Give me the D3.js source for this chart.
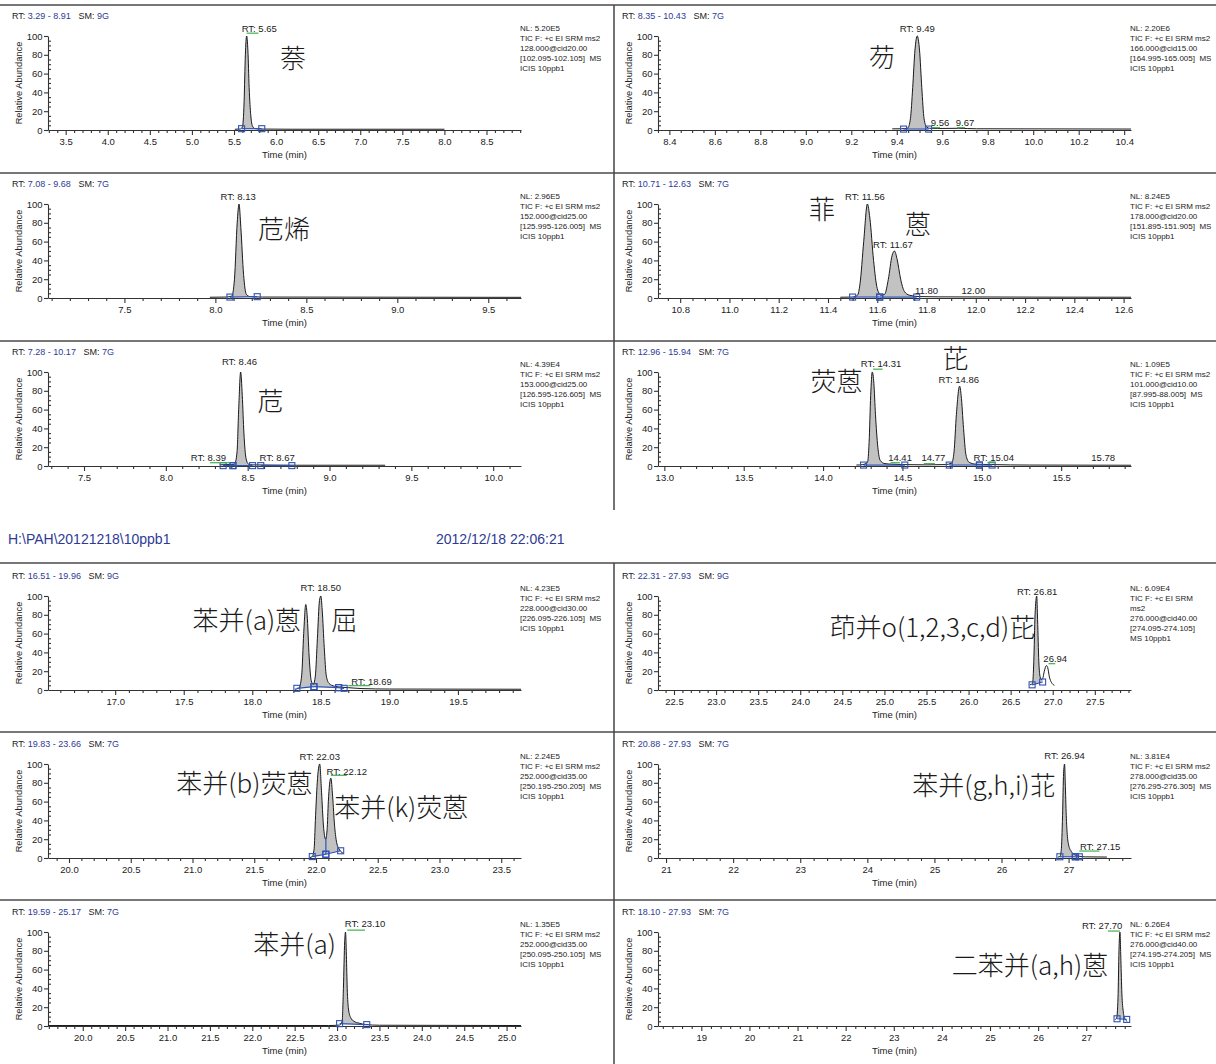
<!DOCTYPE html>
<html>
<head>
<meta charset="utf-8">
<script src="https://cdn.jsdelivr.net/npm/d3@7"></script>
<style>
  body { margin: 0; background: #fff; }
  svg { display: block; font-family: "Liberation Sans", Arial, sans-serif; }
</style>
</head>
<body>
<div id="chart"></div>
<script>
// ---- panel headers / info ----
const rtRanges = [[3.29, 8.91], [8.35, 10.43], [7.08, 9.68], [10.71, 12.63], [7.28, 10.17], [12.96, 15.94],
                  [16.51, 19.96], [22.31, 27.93], [19.83, 23.66], [20.88, 27.93], [19.59, 25.17], [18.10, 27.93]];
const smoothing = ["9G", "7G", "7G", "7G", "7G", "7G", "9G", "9G", "7G", "7G", "7G", "7G"];
const infoLines = [
  ["NL: 5.20E5", "TIC F: +c EI SRM ms2", "128.000@cid20.00", "[102.095-102.105]  MS", "ICIS 10ppb1"],
  ["NL: 2.20E6", "TIC F: +c EI SRM ms2", "166.000@cid15.00", "[164.995-165.005]  MS", "ICIS 10ppb1"],
  ["NL: 2.96E5", "TIC F: +c EI SRM ms2", "152.000@cid25.00", "[125.995-126.005]  MS", "ICIS 10ppb1"],
  ["NL: 8.24E5", "TIC F: +c EI SRM ms2", "178.000@cid20.00", "[151.895-151.905]  MS", "ICIS 10ppb1"],
  ["NL: 4.39E4", "TIC F: +c EI SRM ms2", "153.000@cid25.00", "[126.595-126.605]  MS", "ICIS 10ppb1"],
  ["NL: 1.09E5", "TIC F: +c EI SRM ms2", "101.000@cid10.00", "[87.995-88.005]  MS", "ICIS 10ppb1"],
  ["NL: 4.23E5", "TIC F: +c EI SRM ms2", "228.000@cid30.00", "[226.095-226.105]  MS", "ICIS 10ppb1"],
  ["NL: 6.09E4", "TIC F: +c EI SRM", "ms2", "276.000@cid40.00", "[274.095-274.105]", "MS 10ppb1"],
  ["NL: 2.24E5", "TIC F: +c EI SRM ms2", "252.000@cid35.00", "[250.195-250.205]  MS", "ICIS 10ppb1"],
  ["NL: 3.81E4", "TIC F: +c EI SRM ms2", "278.000@cid35.00", "[276.295-276.305]  MS", "ICIS 10ppb1"],
  ["NL: 1.35E5", "TIC F: +c EI SRM ms2", "252.000@cid35.00", "[250.095-250.105]  MS", "ICIS 10ppb1"],
  ["NL: 6.26E4", "TIC F: +c EI SRM ms2", "276.000@cid40.00", "[274.195-274.205]  MS", "ICIS 10ppb1"]
];
const filePath = "H:\\PAH\\20121218\\10ppb1";
const runDate = "2012/12/18 22:06:21";

// ---- x tick labels ----
const majorTicks = [
  [3.5, 4.0, 4.5, 5.0, 5.5, 6.0, 6.5, 7.0, 7.5, 8.0, 8.5],
  [8.4, 8.6, 8.8, 9.0, 9.2, 9.4, 9.6, 9.8, 10.0, 10.2, 10.4],
  [7.5, 8.0, 8.5, 9.0, 9.5],
  [10.8, 11.0, 11.2, 11.4, 11.6, 11.8, 12.0, 12.2, 12.4, 12.6],
  [7.5, 8.0, 8.5, 9.0, 9.5, 10.0],
  [13.0, 13.5, 14.0, 14.5, 15.0, 15.5],
  [17.0, 17.5, 18.0, 18.5, 19.0, 19.5],
  [22.5, 23.0, 23.5, 24.0, 24.5, 25.0, 25.5, 26.0, 26.5, 27.0, 27.5],
  [20.0, 20.5, 21.0, 21.5, 22.0, 22.5, 23.0, 23.5],
  [21, 22, 23, 24, 25, 26, 27],
  [20.0, 20.5, 21.0, 21.5, 22.0, 22.5, 23.0, 23.5, 24.0, 24.5, 25.0],
  [19, 20, 21, 22, 23, 24, 25, 26, 27]
];
const minorSteps = [0.1, 0.05, 0.1, 0.05, 0.1, 0.1, 0.1, 0.1, 0.1, 0.2, 0.1, 0.2];
const tickDigits = [1, 1, 1, 1, 1, 1, 1, 1, 1, 0, 1, 0];
const yTicks = [0, 20, 40, 60, 80, 100];

// ---- traces: [time (min), relative abundance %] ----
const trace1 = [[5.51,0.8],[5.57,1.0],[5.60,3],[5.62,30],[5.635,80],[5.65,100],[5.665,85],[5.68,45],[5.70,15],[5.72,4],[5.75,1.5],[5.82,1.0],[6.2,0.8],[8.0,0.8]];
const trace2 = [[9.38,1.2],[9.42,1.3],[9.448,2],[9.46,12],[9.47,45],[9.48,85],[9.49,100],[9.50,85],[9.51,45],[9.52,12],[9.532,3],[9.545,1.8],[9.58,1.6],[9.67,1.8],[9.75,1.3],[10.43,1.0]];
const trace3 = [[7.97,0.8],[8.06,1.0],[8.09,2],[8.105,20],[8.12,80],[8.13,100],[8.14,75],[8.155,25],[8.17,4],[8.19,1.5],[8.26,1.0],[9.68,0.7]];
const trace4 = [[11.45,0.8],[11.50,1.0],[11.52,3],[11.53,15],[11.545,60],[11.56,100],[11.57,85],[11.585,40],[11.60,10],[11.615,3],[11.63,4],[11.645,20],[11.66,45],[11.67,50],[11.68,42],[11.695,20],[11.71,7],[11.73,3],[11.77,1.5],[11.85,1.2],[12.63,0.8]];
const trace5 = [[8.33,1.2],[8.38,1.5],[8.42,2],[8.435,15],[8.445,60],[8.457,100],[8.467,75],[8.477,35],[8.49,8],[8.505,2],[8.53,1.2],[8.65,1.0],[8.80,0.8],[9.34,0.8]];
const trace6 = [[14.21,1.0],[14.25,1.5],[14.28,4],[14.29,25],[14.30,75],[14.31,100],[14.32,88],[14.33,55],[14.345,20],[14.36,6],[14.39,2.5],[14.43,2],[14.50,1.5],[14.65,1.2],[14.77,1.5],[14.81,3],[14.825,15],[14.84,55],[14.86,85],[14.87,75],[14.885,40],[14.90,12],[14.92,4],[14.96,2],[15.06,1.5],[15.30,1.0],[15.94,0.8]];
const trace7 = [[18.31,0.8],[18.34,2],[18.36,15],[18.375,60],[18.39,91],[18.40,80],[18.415,35],[18.43,10],[18.445,6],[18.46,15],[18.475,55],[18.49,95],[18.50,100],[18.51,85],[18.525,45],[18.54,15],[18.56,7],[18.60,4],[18.65,3],[18.70,2.5],[18.8,1.5],[19.0,1.0],[19.96,0.8]];
const trace8 = [[26.73,5.5],[26.76,7],[26.775,30],[26.79,80],[26.81,100],[26.82,75],[26.835,30],[26.85,14],[26.865,11],[26.88,12],[26.90,20],[26.925,26],[26.94,24],[26.96,14],[26.985,8],[27.02,5]];
const trace9 = [[21.95,0.5],[21.97,1.5],[21.985,10],[21.995,40],[22.01,80],[22.03,100],[22.045,70],[22.06,35],[22.078,20],[22.09,30],[22.10,60],[22.12,85],[22.135,65],[22.15,35],[22.165,18],[22.185,10],[22.20,7],[22.22,5]];
const trace10 = [[26.84,1.0],[26.87,1.5],[26.89,8],[26.91,45],[26.925,90],[26.94,100],[26.95,80],[26.965,45],[26.98,25],[27.00,14],[27.04,7],[27.09,3.5],[27.15,2],[27.25,1.2],[27.57,1.0]];
const trace11 = [[19.59,0.5],[22.90,0.5],[23.03,1.0],[23.06,5],[23.075,40],[23.09,90],[23.10,100],[23.11,75],[23.12,40],[23.135,18],[23.16,9],[23.20,5],[23.26,3],[23.34,1.5],[23.50,0.8],[25.17,0.5]];
const trace12 = [[27.60,7],[27.63,8],[27.66,30],[27.68,80],[27.70,100],[27.72,70],[27.74,35],[27.77,15],[27.80,8],[27.85,5]];

// ---- integration segments: start/end time and baseline abundance ----
const integ1 = [{s: 5.59, e: 5.83, bs: 1.4, be: 1.4}];
const integ2 = [{s: 9.43, e: 9.54, bs: 1.0, be: 1.0}];
const integ3 = [{s: 8.08, e: 8.23, bs: 1.0, be: 1.4}];
const integ4 = [{s: 11.50, e: 11.61, bs: 1.0, be: 1.0}, {s: 11.61, e: 11.76, bs: 1.0, be: 1.0}];
const integ5 = [{s: 8.35, e: 8.41, bs: 0.4, be: 0.4}, {s: 8.41, e: 8.53, bs: 0.4, be: 0.4}, {s: 8.58, e: 8.77, bs: 0.4, be: 0.4}];
const integ6 = [{s: 14.255, e: 14.515, bs: 1.0, be: 1.0}, {s: 14.795, e: 14.985, bs: 1.0, be: 1.0}, {s: 14.985, e: 15.065, bs: 1.0, be: 1.0}];
const integ7 = [{s: 18.325, e: 18.45, bs: 1.8, be: 3.5}, {s: 18.45, e: 18.63, bs: 3.5, be: 2.5}, {s: 18.63, e: 18.67, bs: 2.5, be: 1.8}];
const integ8 = [{s: 26.755, e: 26.88, bs: 5.5, be: 8.5}];
const integ9 = [{s: 21.97, e: 22.08, bs: 1.5, be: 4}, {s: 22.08, e: 22.20, bs: 4, be: 7.7}];
const integ10 = [{s: 26.87, e: 27.10, bs: 1.3, be: 1.3}, {s: 27.10, e: 27.16, bs: 1.3, be: 1.3}];
const integ11 = [{s: 23.03, e: 23.35, bs: 2.5, be: 1.5}];
const integ12 = [{s: 27.64, e: 27.84, bs: 7.7, be: 7}];
const drops9 = [22.08];

// ---- peak labels: centre time, abundance ----
const labels1 = [{t: 5.80, a: 107, text: "RT: 5.65"}];
const labels2 = [{t: 9.49, a: 107, text: "RT: 9.49"}, {t: 9.59, a: 6.5, text: "9.56"}, {t: 9.70, a: 6.5, text: "9.67"}];
const labels3 = [{t: 8.125, a: 107, text: "RT: 8.13"}];
const labels4 = [{t: 11.55, a: 107, text: "RT: 11.56"}, {t: 11.664, a: 56, text: "RT: 11.67"}, {t: 11.80, a: 6.5, text: "11.80"}, {t: 11.99, a: 6.5, text: "12.00"}];
const labels5 = [{t: 8.45, a: 110, text: "RT: 8.46"}, {t: 8.26, a: 8, text: "RT: 8.39"}, {t: 8.68, a: 8, text: "RT: 8.67"}];
const labels6 = [{t: 14.365, a: 108, text: "RT: 14.31"}, {t: 14.855, a: 91, text: "RT: 14.86"}, {t: 14.485, a: 8, text: "14.41"},
                 {t: 14.695, a: 8, text: "14.77"}, {t: 15.075, a: 8, text: "RT: 15.04"}, {t: 15.765, a: 8, text: "15.78"}];
const labels7 = [{t: 18.50, a: 108, text: "RT: 18.50"}, {t: 18.87, a: 8, text: "RT: 18.69"}];
const labels8 = [{t: 26.815, a: 104, text: "RT: 26.81"}, {t: 27.03, a: 32, text: "26.94"}];
const labels9 = [{t: 22.03, a: 107, text: "RT: 22.03"}, {t: 22.25, a: 91.5, text: "RT: 22.12"}];
const labels10 = [{t: 26.94, a: 108, text: "RT: 26.94"}, {t: 27.47, a: 11.7, text: "RT: 27.15"}];
const labels11 = [{t: 23.33, a: 108, text: "RT: 23.10"}];
const labels12 = [{t: 27.33, a: 106, text: "RT: 27.70"}];

// ---- green apex marks: [from, to, abundance] ----
const greens1 = [[5.65, 5.79, 103]];
const greens2 = [[9.555, 9.59, 2.5], [9.665, 9.70, 2.5]];
const greens3 = [];
const greens4 = [];
const greens5 = [[8.27, 8.39, 3.5]];
const greens6 = [[14.315, 14.375, 103], [14.425, 14.485, 3.5], [14.635, 14.705, 2.5], [15.035, 15.085, 3.5]];
const greens7 = [[18.70, 18.86, 4.6]];
const greens8 = [[26.95, 27.03, 28]];
const greens9 = [[22.12, 22.25, 88]];
const greens10 = [[27.16, 27.46, 7.4]];
const greens11 = [[23.12, 23.33, 102]];
const greens12 = [[27.45, 27.70, 101]];

// ---- compound names ----
const names1 = [{t: 6.2, a: 78, text: "萘"}];
const names2 = [{t: 9.335, a: 79, text: "芴"}];
const names3 = [{t: 8.377, a: 74.5, text: "苊烯"}];
const names4 = [{t: 11.376, a: 96, text: "菲"}, {t: 11.765, a: 80, text: "蒽"}];
const names5 = [{t: 8.64, a: 71, text: "苊"}];
const names6 = [{t: 14.085, a: 92, text: "荧蒽"}, {t: 14.835, a: 117, text: "芘"}];
const names7 = [{t: 17.96, a: 76, text: "苯并(a)蒽"}, {t: 18.67, a: 76, text: "屈"}];
const names8 = [{t: 25.57, a: 69, text: "茚并o(1,2,3,c,d)芘"}];
const names9 = [{t: 21.42, a: 81.7, text: "苯并(b)荧蒽"}, {t: 22.69, a: 56, text: "苯并(k)荧蒽"}];
const names10 = [{t: 25.74, a: 79, text: "苯并(g,h,i)苝"}];
const names11 = [{t: 22.50, a: 88.5, text: "苯并(a)"}];
const names12 = [{t: 25.83, a: 66, text: "二苯并(a,h)蒽"}];

const traces = [trace1, trace2, trace3, trace4, trace5, trace6, trace7, trace8, trace9, trace10, trace11, trace12];
const integs = [integ1, integ2, integ3, integ4, integ5, integ6, integ7, integ8, integ9, integ10, integ11, integ12];
const peakLabels = [labels1, labels2, labels3, labels4, labels5, labels6, labels7, labels8, labels9, labels10, labels11, labels12];
const greenMarks = [greens1, greens2, greens3, greens4, greens5, greens6, greens7, greens8, greens9, greens10, greens11, greens12];
const compoundNames = [names1, names2, names3, names4, names5, names6, names7, names8, names9, names10, names11, names12];
const dropLines = [[], [], [], [], [], [], [], [], drops9, [], [], []];

// ---- layout ----
const width = 1216, height = 1064;
const rowTops = [4, 172, 340, 564, 732, 900];
const BLUE = "#2e3b94", INK = "#222", FILL = "#c2c2c2", MARK = "#2f52b5", GREEN = "#3db34a";

const svg = d3.select("#chart").append("svg")
  .attr("width", width)
  .attr("height", height);

svg.append("rect").attr("width", width).attr("height", height).attr("fill", "#fff");

// frame lines
[5, 173, 341, 563, 732, 900].forEach(yy => {
  svg.append("line").attr("x1", 0).attr("x2", width).attr("y1", yy).attr("y2", yy)
    .attr("stroke", "#777").attr("stroke-width", 2);
});
[[5, 510], [563, 1064]].forEach(([a, b]) => {
  svg.append("line").attr("x1", 614).attr("x2", 614).attr("y1", a).attr("y2", b)
    .attr("stroke", "#444").attr("stroke-width", 1.5);
});

// file header between the two groups
svg.append("text").attr("x", 8).attr("y", 540).attr("dominant-baseline", "middle")
  .attr("font-size", "14px").attr("fill", BLUE).text(filePath);
svg.append("text").attr("x", 436).attr("y", 540).attr("dominant-baseline", "middle")
  .attr("font-size", "14px").attr("fill", BLUE).text(runDate);

function valueAt(tr, t) {
  if (t <= tr[0][0]) return tr[0][1];
  for (let k = 1; k < tr.length; k++) {
    if (t <= tr[k][0]) {
      const [t0, a0] = tr[k - 1], [t1, a1] = tr[k];
      return a0 + (a1 - a0) * (t - t0) / (t1 - t0);
    }
  }
  return tr[tr.length - 1][1];
}

function drawPanel(i) {
  const col = i % 2, row = Math.floor(i / 2), top = rowTops[row];
  const [lo, hi] = rtRanges[i];
  const x = d3.scaleLinear().domain([lo, hi]).range(col ? [658, 1131] : [48, 521]);
  const y = d3.scaleLinear().domain([0, 100]).range([top + 126, top + 32]);
  const g = svg.append("g");
  const left = col ? 610 : 0;

  // header "RT: a - b   SM: nG"
  const hd = g.append("text").attr("x", left + 12).attr("y", top + 13)
    .attr("dominant-baseline", "middle").attr("font-size", "9px").style("white-space", "pre");
  hd.append("tspan").attr("fill", INK).text("RT: ");
  hd.append("tspan").attr("fill", BLUE).text(`${lo.toFixed(2)} - ${hi.toFixed(2)}`);
  hd.append("tspan").attr("fill", INK).text("   SM: ");
  hd.append("tspan").attr("fill", BLUE).text(smoothing[i]);

  // info block
  g.append("g").selectAll("text").data(infoLines[i]).join("text")
    .attr("x", col ? 1130 : 520).attr("y", (d, j) => top + 24.5 + j * 10)
    .attr("dominant-baseline", "middle").attr("font-size", "8px").attr("fill", INK)
    .style("white-space", "pre").text(d => d);

  // y axis
  const yAx = g.append("g").attr("transform", `translate(${x.range()[0]},0)`)
    .call(d3.axisLeft(y).tickValues(yTicks).tickSize(4).tickPadding(1.5).tickSizeOuter(0));
  g.append("g").attr("transform", `translate(${x.range()[0]},0)`)
    .call(d3.axisRight(y).tickValues(d3.range(5, 100, 5).filter(v => v % 20 !== 0)).tickSize(3).tickFormat(""))
    .call(s => s.select(".domain").remove());
  yAx.selectAll("text").attr("font-size", "9.5px").attr("fill", INK).attr("font-family", null);

  g.append("text")
    .attr("transform", `translate(${left + 20},${top + 79}) rotate(-90)`)
    .attr("text-anchor", "middle").attr("dominant-baseline", "middle")
    .attr("font-size", "9.3px").attr("fill", INK).text("Relative Abundance");

  // x axis
  const st = minorSteps[i];
  const minor = d3.range(Math.ceil(lo / st - 1e-9), Math.floor(hi / st + 1e-9) + 1)
    .map(k => +(k * st).toFixed(3))
    .filter(v => !majorTicks[i].some(m => Math.abs(m - v) < 1e-6));
  const xAx = g.append("g").attr("transform", `translate(0,${y(0)})`)
    .call(d3.axisBottom(x).tickValues(majorTicks[i]).tickFormat(d3.format(`.${tickDigits[i]}f`))
      .tickSize(5).tickPadding(3.5).tickSizeOuter(0));
  g.append("g").attr("transform", `translate(0,${y(0)})`)
    .call(d3.axisBottom(x).tickValues(minor).tickSize(3).tickFormat(""))
    .call(s => s.select(".domain").remove());
  xAx.selectAll("text").attr("font-size", "9.5px").attr("fill", INK).attr("font-family", null);
  g.selectAll(".domain, .tick line").attr("stroke", "#333").attr("stroke-width", 1.1);

  g.append("text").attr("x", d3.mean(x.range())).attr("y", top + 151.5)
    .attr("text-anchor", "middle").attr("dominant-baseline", "middle")
    .attr("font-size", "9.5px").attr("fill", INK).text("Time (min)");

  const tr = traces[i];

  // peak fills
  integs[i].forEach(seg => {
    const base = t => seg.bs + (seg.be - seg.bs) * (t - seg.s) / (seg.e - seg.s);
    const pts = [[seg.s, valueAt(tr, seg.s)], ...tr.filter(d => d[0] > seg.s && d[0] < seg.e), [seg.e, valueAt(tr, seg.e)]];
    g.append("path").datum(pts)
      .attr("fill", FILL)
      .attr("d", d3.area().x(d => x(d[0])).y0(d => y(base(d[0]))).y1(d => y(Math.max(d[1], base(d[0]))))
        .curve(d3.curveMonotoneX));
  });

  // trace
  g.append("path").datum(tr)
    .attr("fill", "none").attr("stroke", "#1a1a1a").attr("stroke-width", 1)
    .attr("d", d3.line().x(d => x(d[0])).y(d => y(d[1])).curve(d3.curveMonotoneX));

  // integration baselines, drop lines and markers
  integs[i].forEach(seg => {
    g.append("line").attr("x1", x(seg.s)).attr("x2", x(seg.e)).attr("y1", y(seg.bs)).attr("y2", y(seg.be))
      .attr("stroke", MARK).attr("stroke-width", 1.2);
  });
  dropLines[i].forEach(t => {
    const seg = integs[i].find(s => Math.abs(s.e - t) < 1e-6);
    g.append("line").attr("x1", x(t)).attr("x2", x(t)).attr("y1", y(seg.be)).attr("y2", y(valueAt(tr, t)))
      .attr("stroke", MARK).attr("stroke-width", 1.2);
  });
  const ends = [];
  integs[i].forEach(seg => { ends.push([seg.s, seg.bs]); ends.push([seg.e, seg.be]); });
  g.append("g").selectAll("rect").data(ends).join("rect")
    .attr("x", d => x(d[0]) - 3).attr("y", d => y(d[1]) - 3).attr("width", 6).attr("height", 6)
    .attr("fill", "none").attr("stroke", MARK).attr("stroke-width", 1.1);

  // green apex marks
  g.append("g").selectAll("line").data(greenMarks[i]).join("line")
    .attr("x1", d => x(d[0])).attr("x2", d => x(d[1])).attr("y1", d => y(d[2])).attr("y2", d => y(d[2]))
    .attr("stroke", GREEN).attr("stroke-width", 1.2);

  // peak labels
  g.append("g").selectAll("text").data(peakLabels[i]).join("text")
    .attr("x", d => x(d.t)).attr("y", d => y(d.a))
    .attr("text-anchor", "middle").attr("dominant-baseline", "middle")
    .attr("font-size", "9.5px").attr("fill", INK).text(d => d.text);

  // compound names
  g.append("g").selectAll("text").data(compoundNames[i]).join("text")
    .attr("x", d => x(d.t)).attr("y", d => y(d.a))
    .attr("text-anchor", "middle").attr("dominant-baseline", "central")
    .attr("font-family", "'Noto Sans CJK SC', sans-serif").attr("font-weight", 300)
    .attr("font-size", "26px").attr("fill", "#1a1a1a").text(d => d.text);
}

rtRanges.forEach((r, i) => drawPanel(i));
</script>
</body>
</html>
